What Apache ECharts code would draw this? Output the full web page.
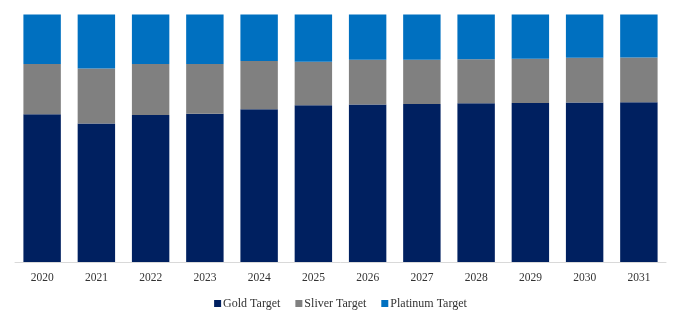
<!DOCTYPE html>
<html>
<head>
<meta charset="utf-8">
<script src="https://cdn.jsdelivr.net/npm/echarts@6/dist/echarts.min.js"></script>
<style>
  html, body { margin: 0; padding: 0; background: #fff; }
  #chart { width: 681px; height: 322px; }
</style>
</head>
<body>
<div id="chart"></div>
<script>
// Share of each target type per year (percent, stacks to 100)
const years = ['2020', '2021', '2022', '2023', '2024', '2025', '2026', '2027', '2028', '2029', '2030', '2031'];
const goldTarget = [59.7, 56.0, 59.4, 59.9, 61.7, 63.3, 63.6, 63.8, 64.1, 64.2, 64.4, 64.5];
const sliverTarget = [20.3, 22.2, 20.6, 20.1, 19.5, 17.6, 18.1, 17.9, 17.8, 17.9, 18.1, 18.1];
const platinumTarget = [20.0, 21.8, 20.0, 20.0, 18.8, 19.1, 18.3, 18.3, 18.1, 17.9, 17.5, 17.4];

const font = '"Liberation Serif", "Times New Roman", serif';

function barSeries(name, data, color) {
  return {
    name: name,
    type: 'bar',
    stack: 'share',
    data: data,
    barCategoryGap: '31%',
    itemStyle: { color: color },
    emphasis: { disabled: true }
  };
}

const chart = echarts.init(document.getElementById('chart'), null, { renderer: 'canvas' });
chart.setOption({
  animation: false,
  grid: { left: 15, right: 15, top: 14.5, bottom: 60 },
  legend: {
    left: 'center',
    top: 292.5,
    itemWidth: 7,
    itemHeight: 7,
    itemGap: 15,
    icon: 'rect',
    textStyle: { fontFamily: font, fontSize: 12, color: '#333', padding: [0, 0, 0, -3] },
    data: ['Gold Target', 'Sliver Target', 'Platinum Target']
  },
  xAxis: {
    type: 'category',
    data: years,
    axisLine: { lineStyle: { color: '#d9d9d9', width: 1 } },
    axisTick: { show: false },
    axisLabel: { fontFamily: font, fontSize: 11.5, color: '#333', margin: 10 }
  },
  yAxis: {
    type: 'value',
    min: 0,
    max: 100,
    show: false,
    splitLine: { show: false }
  },
  series: [
    barSeries('Gold Target', goldTarget, '#002060'),
    barSeries('Sliver Target', sliverTarget, '#808080'),
    barSeries('Platinum Target', platinumTarget, '#0070C0')
  ]
});
</script>
</body>
</html>
